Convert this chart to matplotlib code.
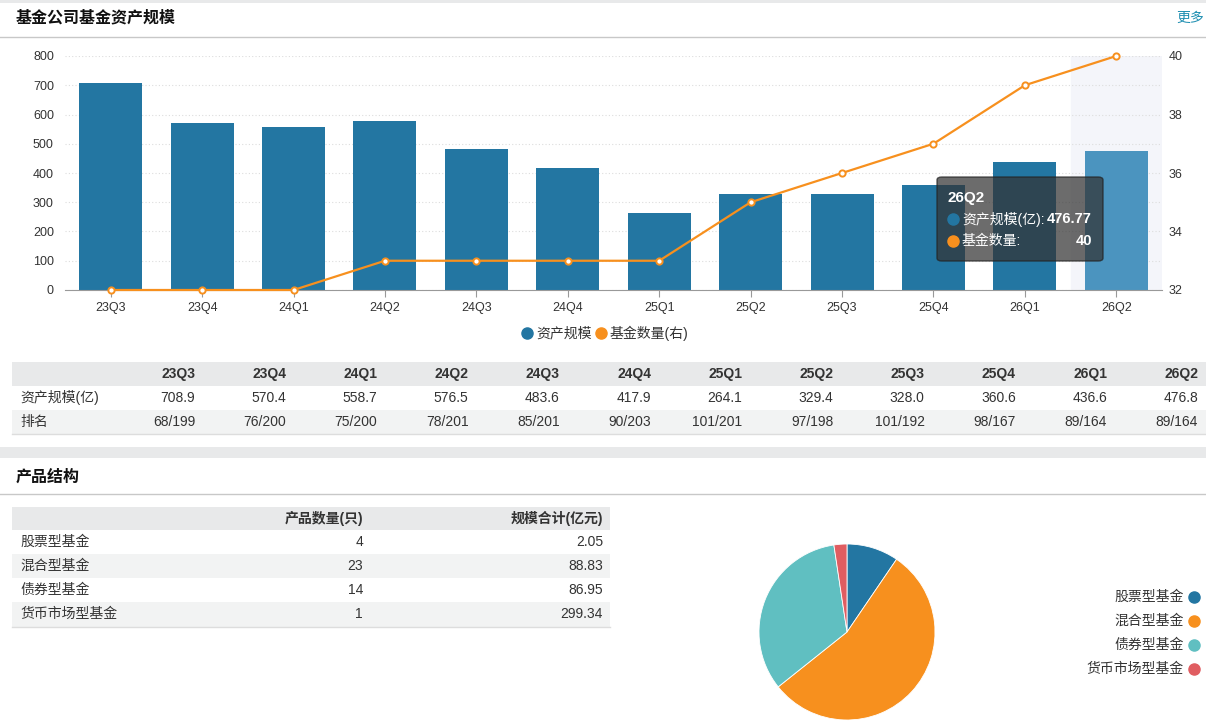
import matplotlib.pyplot as plt
from matplotlib.patches import Rectangle, FancyBboxPatch
from matplotlib.lines import Line2D

plt.rcParams['font.family'] = ['Liberation Sans', 'Noto Sans CJK SC', 'DejaVu Sans']

# data
quarters = ['23Q3', '23Q4', '24Q1', '24Q2', '24Q3', '24Q4',
            '25Q1', '25Q2', '25Q3', '25Q4', '26Q1', '26Q2']
asset_size = [708.9, 570.4, 558.7, 576.5, 483.6, 417.9,
              264.1, 329.4, 328.0, 360.6, 436.6, 476.8]
fund_count = [32, 32, 32, 33, 33, 33, 33, 35, 36, 37, 39, 40]
ranks = ['68/199', '76/200', '75/200', '78/201', '85/201', '90/203',
         '101/201', '97/198', '101/192', '98/167', '89/164', '89/164']
tip_quarter = '26Q2'
tip_asset = '476.77'
tip_count = '40'

fund_types = ['股票型基金', '混合型基金', '债券型基金', '货币市场型基金']
type_num = [4, 23, 14, 1]
type_scale = ['2.05', '88.83', '86.95', '299.34']

W, H = 1206, 728
BLUE = '#2376a2'
BLUE_HI = '#4b94bf'
ORANGE = '#f7901e'
TEAL = '#60bfc1'
RED = '#e05d61'
pie_colors = [BLUE, ORANGE, TEAL, RED]
TXT = '#333333'


def fx(x):
    return x / W


def fy(y):
    return 1 - y / H


fig = plt.figure(figsize=(W / 100, H / 100), dpi=100)
fig.patch.set_facecolor('#e8e9ea')


def rect(x0, y0, x1, y1, color, z=-5):
    fig.patches.append(Rectangle((fx(x0), fy(y1)), fx(x1 - x0), (y1 - y0) / H,
                                 transform=fig.transFigure, facecolor=color,
                                 edgecolor='none', zorder=z))


def hline(x0, x1, y, color='#cccccc', lw=1.0):
    fig.lines.append(Line2D([fx(x0), fx(x1)], [fy(y), fy(y)], transform=fig.transFigure,
                            color=color, lw=lw, zorder=-2))


def txt(x, y, s, **kw):
    kw.setdefault('color', TXT)
    kw.setdefault('va', 'center')
    kw.setdefault('fontsize', 10)
    fig.text(fx(x), fy(y), s, **kw)


# panels
rect(0, 3, W, 447, 'white', z=-10)
rect(0, 458, W, H, 'white', z=-10)
hline(0, W, 37, '#c8c8c8')
hline(0, W, 494, '#c8c8c8')
txt(16, 18, '基金公司基金资产规模', fontsize=11.5, fontweight='bold', color='#111111')
txt(1204, 18, '更多', fontsize=10, ha='right', color='#1b8db0')
txt(16, 477, '产品结构', fontsize=11.5, fontweight='bold', color='#111111')

# main chart
ax = fig.add_axes([fx(65), fy(290), fx(1162 - 65), (290 - 56) / H])
ax.set_facecolor('none')
x = list(range(len(quarters)))
ax.axvspan(10.5, 11.5, color='#f4f5fa', zorder=0)
bar_colors = [BLUE] * (len(quarters) - 1) + [BLUE_HI]
ax.bar(x, asset_size, width=0.69, color=bar_colors, zorder=2)
ax.set_xlim(-0.5, len(quarters) - 0.5)
ax.set_ylim(0, 800)
ax.set_yticks(range(0, 801, 100))
ax.yaxis.grid(True, linestyle=(0, (1, 2)), color='#dddddd', lw=0.8, zorder=1)
ax.set_axisbelow(True)
ax.set_xticks(x)
ax.set_xticklabels(quarters)
for s in ['top', 'right', 'left']:
    ax.spines[s].set_visible(False)
ax.spines['bottom'].set_color('#999999')
ax.tick_params(axis='x', length=5, color='#999999', labelsize=9, labelcolor=TXT, pad=4)
ax.tick_params(axis='y', length=0, labelsize=9, labelcolor=TXT, pad=8)

ax2 = ax.twinx()
ax2.plot(x, fund_count, color=ORANGE, lw=1.6, marker='o', ms=4.5,
         mfc='white', mec=ORANGE, mew=1.4, zorder=3, clip_on=False)
ax2.set_ylim(32, 40)
ax2.set_yticks(range(32, 41, 2))
for s in ['top', 'right', 'left', 'bottom']:
    ax2.spines[s].set_visible(False)
ax2.tick_params(axis='y', length=0, labelsize=9, labelcolor=TXT, pad=5)

# tooltip
fig.patches.append(FancyBboxPatch((fx(937), fy(261)), fx(1103 - 937), (261 - 177) / H,
                                  boxstyle='round,pad=0,rounding_size=0.004',
                                  transform=fig.transFigure, facecolor='#333333',
                                  edgecolor='#222222', alpha=0.72, zorder=8))
txt(948, 198, tip_quarter, color='white', fontsize=11, fontweight='bold', zorder=9)
fig.lines.append(Line2D([fx(953)], [fy(219)], transform=fig.transFigure, marker='o',
                        ms=8, color=BLUE, zorder=9))
txt(962, 219, '资产规模(亿):', color='white', fontsize=10, zorder=9)
txt(1092, 219, tip_asset, color='white', fontsize=10.5, fontweight='bold', ha='right', zorder=9)
fig.lines.append(Line2D([fx(953)], [fy(241)], transform=fig.transFigure, marker='o',
                        ms=8, color=ORANGE, zorder=9))
txt(962, 241, '基金数量:', color='white', fontsize=10, zorder=9)
txt(1092, 241, tip_count, color='white', fontsize=10.5, fontweight='bold', ha='right', zorder=9)

# legend
fig.lines.append(Line2D([fx(527)], [fy(333)], transform=fig.transFigure, marker='o',
                        ms=8, color=BLUE))
txt(536, 333, '资产规模', fontsize=10)
fig.lines.append(Line2D([fx(601)], [fy(333)], transform=fig.transFigure, marker='o',
                        ms=8, color=ORANGE))
txt(610, 333, '基金数量(右)', fontsize=10)

# table 1
rect(12, 362, W, 386, '#e8e9ea')
rect(12, 410, W, 434, '#f2f3f3')
hline(12, W, 434, '#dddddd')
col_right = [195 + 91.2 * i for i in range(len(quarters))]
for i, q in enumerate(quarters):
    txt(col_right[i], 374, q, ha='right', fontweight='bold', fontsize=10)
    txt(col_right[i], 398, f'{asset_size[i]:.1f}', ha='right', fontsize=10)
    txt(col_right[i], 422, ranks[i], ha='right', fontsize=10)
txt(20, 398, '资产规模(亿)', fontsize=10)
txt(20, 422, '排名', fontsize=10)

# table 2
rect(12, 507, 610, 530, '#e8e9ea')
rect(12, 554, 610, 578, '#f2f3f3')
rect(12, 602, 610, 627, '#f2f3f3')
hline(12, 610, 627, '#dddddd')
txt(363, 518, '产品数量(只)', ha='right', fontweight='bold', fontsize=10)
txt(603, 518, '规模合计(亿元)', ha='right', fontweight='bold', fontsize=10)
for i, t in enumerate(fund_types):
    yy = 542 + 24 * i
    txt(20, yy, t, fontsize=10)
    txt(363, yy, str(type_num[i]), ha='right', fontsize=10)
    txt(603, yy, type_scale[i], ha='right', fontsize=10)

# pie
r = 88
pax = fig.add_axes([fx(847 - r), fy(632 + r), fx(2 * r), 2 * r / H])
pax.pie(type_num, colors=pie_colors, startangle=90, counterclock=False,
        wedgeprops=dict(edgecolor='white', linewidth=0.6))
pax.set_xlim(-1, 1)
pax.set_ylim(-1, 1)
pax.set_aspect('auto')
pax.axis('off')

for i, t in enumerate(fund_types):
    yy = 597 + 24 * i
    txt(1184, yy, t, ha='right', fontsize=10)
    fig.lines.append(Line2D([fx(1194)], [fy(yy)], transform=fig.transFigure, marker='o',
                            ms=8, color=pie_colors[i]))

fig.savefig('out.png', dpi=100)
